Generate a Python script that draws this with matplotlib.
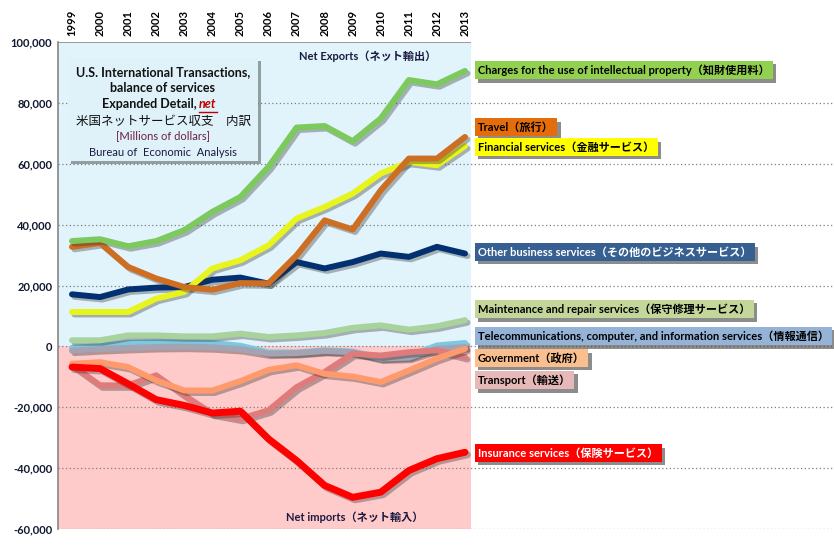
import matplotlib
matplotlib.use("Agg")
import matplotlib.pyplot as plt
import matplotlib.patheffects as pe
from matplotlib.ticker import FuncFormatter


# ---------------------------
# Data (millions of dollars, net)
# ---------------------------
years = list(range(1999, 2014))

charges = [34600, 35200, 32900, 34600, 38200, 44200, 49100, 59000, 71900, 72400,
           67400, 74900, 87500, 86100, 90500]
travel = [32700, 34000, 26100, 22300, 19500, 18600, 20800, 20700, 29900, 41400,
          38400, 51300, 61700, 61700, 68800]
financial = [11300, 11300, 11300, 15700, 17900, 25600, 28300, 33200, 42000, 45800,
             50200, 56800, 60600, 59500, 65800]
other_business = [17100, 16200, 18700, 19300, 19500, 21900, 22600, 20600, 27700, 25600,
                  27700, 30500, 29400, 32700, 30500]
maintenance = [2000, 2000, 3600, 3600, 3300, 3300, 4200, 3100, 3600, 4400,
               6100, 6900, 5500, 6600, 8600]
telecom = [-500, 100, 1100, 1300, 1300, 1100, 200, -2000, -2000, -1300,
           -1700, -3700, -3300, 300, 1100]
unlabeled = [-1400, -900, -500, -200, -100, -300, -900, -2400, -2200, -1500,
             -1900, -4000, -3700, -800, -200]
government = [-5700, -5200, -6800, -11200, -14500, -14500, -11400, -7700, -6200, -9000,
              -9900, -11700, -7900, -4000, -800]
transport = [-6200, -12800, -12800, -9500, -16100, -22100, -23800, -21000, -13400, -8400,
             -2400, -3000, -1900, -1300, -3500]
insurance = [-6800, -7300, -12300, -17500, -19400, -21900, -21300, -30400, -37500, -45700,
             -49600, -47900, -40800, -36900, -34800]

labels = [
    "Charges for the use of intellectual property（知財使用料）",
    "Travel（旅行）",
    "Financial services（金融サービス）",
    "Other business services（その他のビジネスサービス）",
    "Maintenance and repair services（保守修理サービス）",
    "Telecommunications, computer, and information services（情報通信）",
    "Government（政府）",
    "Transport（輸送）",
    "Insurance services（保険サービス）",
]

y_ticks = list(range(-60000, 100001, 20000))

FONT = ["Lato", "Noto Sans CJK JP", "DejaVu Sans"]
plt.rcParams["font.family"] = FONT

W, H = 834, 545


def px(x, y):
    return x / W, 1 - y / H


fig = plt.figure(figsize=(W / 100, H / 100), dpi=100)
ax = fig.add_axes([58 / W, 1 - 529 / H, (W - 58) / W, (529 - 42) / H])

x0 = 1999 - 14 / 28.07
x1 = x0 + 776 / 28.07
x_bg = 2013 + 6 / 28.07
ax.set_xlim(x0, x1)
ax.set_ylim(-60000, 100000)

# background bands: net exports / net imports
ax.fill_between([x0, x_bg], 0, 100000, color="#E1F4FB", lw=0, zorder=0)
ax.fill_between([x0, x_bg], -60000, 0, color="#FFCACA", lw=0, zorder=0)
ax.hlines(100000, x0, x_bg, color="#8C8C8C", lw=1.2, zorder=1)

for v in y_ticks[:-1]:
    ax.axhline(v, color="#7F7F7F", lw=0.9, ls=(0, (1, 2)), zorder=1)

# ---------------------------
# Lines
# ---------------------------
series = [
    (telecom, "#7CC8E0", 4.3),
    (unlabeled, "#A3A3B4", 4.3),
    (maintenance, "#A9D39C", 4.3),
    (transport, "#E07B7B", 4.3),
    (government, "#FF9A6C", 4.3),
    (insurance, "#FF0000", 5.0),
    (other_business, "#023070", 4.3),
    (financial, "#E8F51C", 4.3),
    (travel, "#CD6E22", 4.3),
    (charges, "#7CC95E", 4.3),
]
shadow = [pe.SimpleLineShadow(offset=(1.8, -1.8), shadow_color="#303030", alpha=0.35),
          pe.Normal()]
for i, (vals, col, lw) in enumerate(series):
    ax.plot(years, vals, color=col, lw=lw, solid_capstyle="round",
            solid_joinstyle="round", zorder=3 + i, path_effects=shadow)

# ---------------------------
# Axes styling
# ---------------------------
ax.set_xticks(years)
ax.set_xticklabels([str(y) for y in years], rotation=90, fontsize=8, fontweight="bold")
ax.xaxis.tick_top()
ax.set_yticks(y_ticks)
ax.yaxis.set_major_formatter(FuncFormatter(lambda v, p: f"{v:,.0f}"))
for t in ax.get_yticklabels():
    t.set_fontsize(8)
    t.set_fontweight("bold")
    t.set_color("#10182E")
ax.tick_params(axis="both", length=0, pad=4)
for s in ["top", "right", "bottom"]:
    ax.spines[s].set_visible(False)
ax.spines["left"].set_color("#868686")
ax.spines["left"].set_linewidth(1.2)

# ---------------------------
# Series labels on the right
# ---------------------------
tag_styles = [
    (70, "#92D050", "black"),
    (127, "#E46C0A", "black"),
    (147, "#FFFF00", "black"),
    (252, "#366092", "white"),
    (309, "#C4D79B", "black"),
    (336, "#95B3D7", "black"),
    (358, "#FABF8F", "black"),
    (380, "#E6B8B7", "black"),
    (453, "#FF0000", "white"),
]
for text, (yy, face, tc) in zip(labels, tag_styles):
    t = fig.text(*px(478, yy), text, ha="left", va="center", fontsize=8,
                 fontweight="bold", color=tc, zorder=20,
                 bbox=dict(boxstyle="square,pad=0.3", fc=face, ec="none"))
    t.get_bbox_patch().set_path_effects(
        [pe.SimplePatchShadow(offset=(2.5, -2.5), shadow_rgbFace="#404040", alpha=0.6),
         pe.Normal()])

fig.text(*px(368, 56), "Net Exports（ネット輸出）", ha="center", va="center",
         fontsize=8, fontweight="bold", color="#1A1A40", zorder=20)
fig.text(*px(355, 517), "Net imports（ネット輸入）", ha="center", va="center",
         fontsize=8, fontweight="bold", color="#1A1A40", zorder=20)

# ---------------------------
# Title box
# ---------------------------
box = plt.Rectangle(px(68, 161), 190 / W, 103 / H, transform=fig.transFigure,
                    fc="#DFF2FA", ec="none", zorder=15,
                    path_effects=[pe.SimplePatchShadow(offset=(2.5, -2.5), alpha=0.5),
                                  pe.Normal()])
fig.add_artist(box)

fig.text(*px(163, 72), "U.S. International Transactions,", ha="center", va="center",
         fontsize=9, fontweight="bold", color="#111111", zorder=16)
fig.text(*px(163, 88), "balance of services", ha="center", va="center",
         fontsize=9, fontweight="bold", color="#111111", zorder=16)
fig.text(*px(197, 104), "Expanded Detail,", ha="right", va="center",
         fontsize=9, fontweight="bold", color="#111111", zorder=16)
fig.text(*px(199, 104), "net", ha="left", va="center", fontsize=9,
         fontweight="bold", fontstyle="italic", color="#C00000", zorder=16)
fig.add_artist(plt.Line2D([199 / W, 217 / W], [1 - 112 / H, 1 - 112 / H],
                          transform=fig.transFigure, color="#C00000", lw=1, zorder=16))
fig.text(*px(163, 121), "米国ネットサービス収支　内訳", ha="center", va="center",
         fontsize=9, color="#111111", family=["Noto Sans CJK JP"], zorder=16)
fig.text(*px(163, 136), "[Millions of dollars]", ha="center", va="center",
         fontsize=8, color="#6B1F3F", zorder=16)
fig.text(*px(163, 152), "Bureau of  Economic  Analysis", ha="center", va="center",
         fontsize=8, color="#1A1A40", zorder=16)

fig.savefig("out.png", dpi=100)
